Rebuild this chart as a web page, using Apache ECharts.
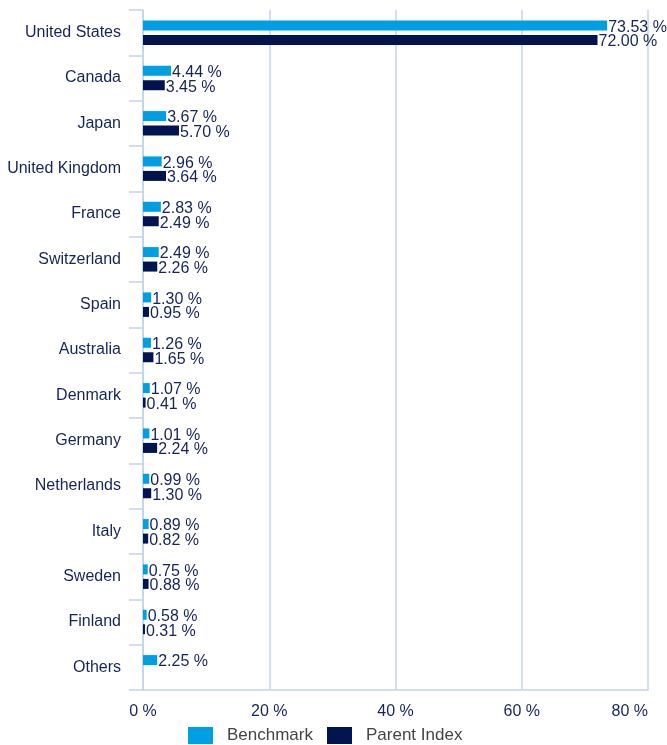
<!DOCTYPE html>
<html><head><meta charset="utf-8">
<script src="https://cdn.jsdelivr.net/npm/echarts@6/dist/echarts.min.js"></script>
<style>html,body{margin:0;padding:0;background:#fff}#c{width:667px;height:745px}</style>
</head><body><div id="c"></div>
<script>
const categories = ["United States","Canada","Japan","United Kingdom","France","Switzerland","Spain","Australia","Denmark","Germany","Netherlands","Italy","Sweden","Finland","Others"];
const benchmark = [73.53,4.44,3.67,2.96,2.83,2.49,1.30,1.26,1.07,1.01,0.99,0.89,0.75,0.58,2.25];
const parentIndex = [72.00,3.45,5.70,3.64,2.49,2.26,0.95,1.65,0.41,2.24,1.30,0.82,0.88,0.31,null];
const xTicks = [0,20,40,60,80];

const FONT = 'Liberation Sans, Arial, sans-serif';
const chart = echarts.init(document.getElementById('c'));
const lbl = {show:true, position:'right', distance:1, offset:[0,2], color:'#16245a', fontSize:16, fontFamily:FONT,
  formatter: p => p.value.toFixed(2) + ' %'};
chart.setOption({
  animation:false,
  textStyle:{fontFamily:FONT},
  grid:{left:143, right:19, top:10, bottom:55},
  legend:{top:722, left:183, padding:[5,5,5,5], itemWidth:25, itemHeight:17, itemGap:14,
    textStyle:{color:'#444', fontSize:17, padding:[0,0,0,9]}, icon:'rect',
    data:['Benchmark','Parent Index']},
  xAxis:{type:'value', min:xTicks[0], max:xTicks[xTicks.length-1], interval:20,
    axisLine:{show:true, lineStyle:{color:'#c5d3e8', width:1.5}},
    axisTick:{show:false},
    splitLine:{lineStyle:{color:'#c5d3e8', width:1.5}},
    axisLabel:{color:'#16245a', fontSize:16, margin:14, alignMaxLabel:'right', formatter: v => v + ' %'}},
  yAxis:{type:'category', data:categories, inverse:true,
    axisLine:{lineStyle:{color:'#c5d3e8', width:1.5}},
    axisTick:{show:true, length:14, lineStyle:{color:'#c5d3e8', width:1.5}},
    axisLabel:{color:'#16245a', fontSize:16, margin:22}},
  series:[
    {name:'Benchmark', type:'bar', data:benchmark, barWidth:10, barGap:'45%',
     itemStyle:{color:'#009fe3'}, label:lbl},
    {name:'Parent Index', type:'bar', data:parentIndex, barWidth:10,
     itemStyle:{color:'#001450'}, label:lbl}
  ]
});
</script></body></html>
